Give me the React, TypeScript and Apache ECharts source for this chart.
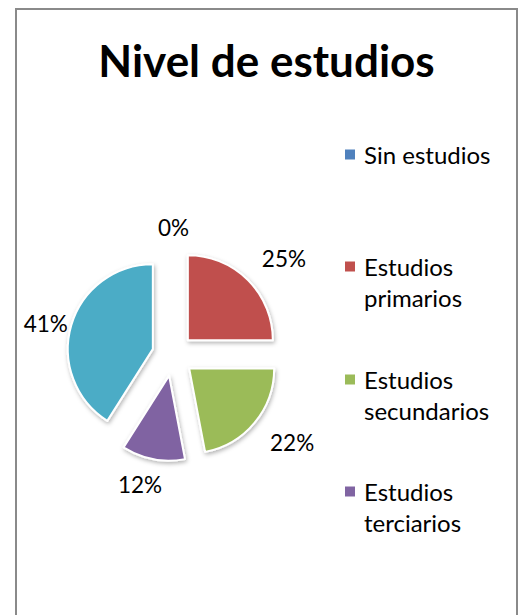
import React, { useEffect, useRef } from "react";
import * as echarts from "echarts";

const chartTitle = "Nivel de estudios";
const categories = [
  "Sin estudios",
  "Estudios primarios",
  "Estudios secundarios",
  "Estudios terciarios",
  "Estudios universitarios",
];
const percentages = [0, 25, 22, 12, 41];
const colors = ["#4F81BD", "#C0504D", "#9BBB59", "#8064A2", "#4BACC6"];
const legendNames = categories.slice(0, 4);
const legendLabels = [
  "Sin estudios",
  "\nEstudios\nprimarios",
  "\nEstudios\nsecundarios",
  "\nEstudios\nterciarios",
];

// label placement tuning (style only)
const labelLineLengths = [22, 31, 31, 26, 8];
const labelDistances = [-16, -8, -8.5, -13.8, -4.3];
const legendTops = [139, 220, 333, 445];

export default function App() {
  const ref = useRef<HTMLDivElement>(null);
  useEffect(() => {
    if (!ref.current) return;
    const chart = echarts.init(ref.current, undefined, { renderer: "svg" });
    const font = "Lato, sans-serif";
    chart.setOption({
      animation: false,
      backgroundColor: "#ffffff",
      title: {
        text: chartTitle,
        left: 266.5,
        top: 60,
        padding: 0,
        textAlign: "center",
        textVerticalAlign: "middle",
        textStyle: { fontFamily: font, fontSize: 44, fontWeight: "bold", color: "#000" },
      },
      graphic: [
        {
          type: "rect",
          shape: { x: 16, y: 9, width: 501, height: 700 },
          style: { fill: "none", stroke: "#8a8a8a", lineWidth: 2 },
          z: -1,
          silent: true,
        },
      ],
      legend: legendNames.map((name, i) => ({
        data: [name],
        orient: "vertical",
        left: 343,
        top: legendTops[i],
        padding: 0,
        icon: "rect",
        itemWidth: 12,
        itemHeight: 12,
        itemGap: 0,
        selectedMode: false,
        formatter: () => legendLabels[i],
        textStyle: {
          fontFamily: font,
          fontSize: 24,
          color: "#000",
          lineHeight: 31,
          padding: [0, 0, 0, 3],
        },
      })),
      series: [
        {
          type: "pie",
          center: [173, 355],
          radius: 85,
          startAngle: 90,
          clockwise: true,
          selectedMode: "multiple",
          selectedOffset: 21,
          avoidLabelOverlap: false,
          data: categories.map((name, i) => ({
            name,
            value: percentages[i],
            selected: true,
            itemStyle: { color: colors[i] },
            labelLine: { show: false, length: labelLineLengths[i], length2: 0 },
            label: { distanceToLabelLine: labelDistances[i] },
          })),
          label: {
            show: true,
            position: "outside",
            formatter: (p: any) => p.value + "%",
            fontFamily: font,
            fontSize: 22.5,
            color: "#000",
          },
          labelLine: { show: false },
          itemStyle: {
            borderColor: "#fff",
            borderWidth: 2,
            shadowBlur: 4,
            shadowOffsetX: 1,
            shadowOffsetY: 2,
            shadowColor: "rgba(0,0,0,0.3)",
          },
          emphasis: { disabled: true },
          select: { itemStyle: { borderColor: "#fff", borderWidth: 2 } },
        },
      ],
    });
    return () => chart.dispose();
  }, []);
  return (
    <div
      ref={ref}
      style={{ position: "absolute", left: 0, top: 0, width: 525, height: 615 }}
    />
  );
}
